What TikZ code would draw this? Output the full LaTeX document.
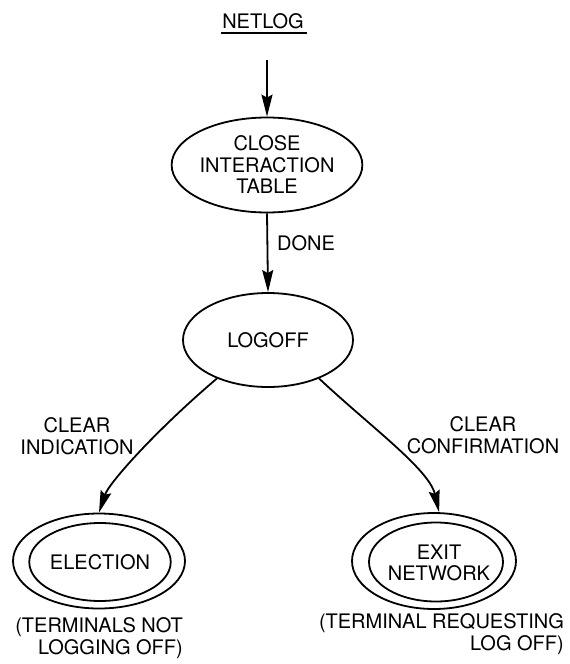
\documentclass[tikz,border=0pt]{standalone}
\usepackage{fontspec}
\setmainfont{TeX Gyre Heros}
\usetikzlibrary{shapes.geometric,arrows.meta}
\begin{document}
\begin{tikzpicture}[x=1pt,y=-1pt,
  lbl/.style={font=\fontsize{20}{21.5}\selectfont, inner sep=0pt, align=center},
  st/.style={ellipse, draw, line width=1.8pt, inner sep=0pt, font=\fontsize{20}{21.5}\selectfont, align=center},
  ring/.style={ellipse, draw, line width=1.8pt, inner sep=0pt},
  arr/.style={line width=1.8pt, -{Stealth[length=22pt,width=11pt,inset=3pt]}}]
\useasboundingbox (0,0) rectangle (570,664);

% title
\node[lbl] (title) at (263,21) {NETLOG};
\draw[line width=1.8pt] ([xshift=-1pt,yshift=-4pt]title.south west) -- ([xshift=3pt,yshift=-4pt]title.south east);
\coordinate (in) at (267,60);

% states
\node[st, minimum width=170pt, minimum height=95pt] (cit) at (267,165) {CLOSE\\INTERACTION\\TABLE};
\node[st, minimum width=170pt, minimum height=94pt] (logoff) at (268,340) {LOGOFF};

\node[ring, minimum width=172pt, minimum height=95pt] (elec) at (99,561) {};
\node[st, minimum width=140pt, minimum height=78pt] (eleci) at (100,562) {ELECTION};

\node[ring, minimum width=164pt, minimum height=96pt] (exit) at (434,561) {};
\node[ring, minimum width=134pt, minimum height=79pt] (exiti) at (436,562) {};
\node[lbl] (exittxt) at (439,563) {EXIT\\NETWORK};

% connectors
\draw[arr] (in) -- (cit.north);
\draw[arr] (cit.south) -- (logoff.north);
\draw[arr] (logoff.217) .. controls +(-60,51) and +(10,-30) .. (elec.north);
\draw[arr] (logoff.-37) .. controls +(50,47) and +(-10,-43) .. (exit.84);

% labels
\node[lbl, anchor=west] (done) at (277,243) {DONE};
\node[lbl] (ci) at (77,436) {CLEAR\\INDICATION};
\node[lbl] (cc) at (483,435) {CLEAR\\CONFIRMATION};
\node[lbl, align=right, anchor=east] (n1) at (183,638) {(TERMINALS NOT\\LOGGING OFF)};
\node[lbl, align=right, anchor=east] (n2) at (564,634) {(TERMINAL REQUESTING\\LOG OFF)};
\end{tikzpicture}
\end{document}
